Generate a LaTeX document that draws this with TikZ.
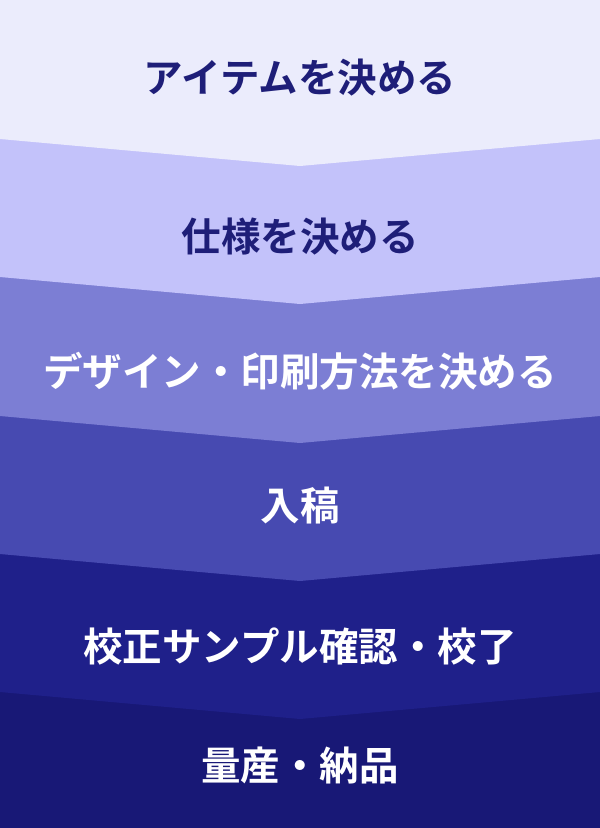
\documentclass[tikz,border=0pt]{standalone}
\usepackage{fontspec}
\newfontfamily\jp{Noto Sans CJK JP Bold}
\definecolor{bA}{HTML}{EBECFC}
\definecolor{bB}{HTML}{C3C2FA}
\definecolor{bC}{HTML}{7C7ED4}
\definecolor{bD}{HTML}{474AB1}
\definecolor{bE}{HTML}{1F208A}
\definecolor{bF}{HTML}{181876}
\definecolor{navy}{HTML}{1E1E78}
\begin{document}
\begin{tikzpicture}[x=1pt,y=-1pt,
  lbl/.style={font=\jp\fontsize{39.5}{44}\selectfont, inner sep=0pt}]
\useasboundingbox (0,0) rectangle (600,828);
\fill[bF] (0,0) rectangle (600,828);
\fill[bE] (0,0) -- (600,0) -- (600,692) -- (300,719) -- (0,692) -- cycle;
\fill[bD] (0,0) -- (600,0) -- (600,554) -- (300,581) -- (0,554) -- cycle;
\fill[bC] (0,0) -- (600,0) -- (600,416) -- (300,443) -- (0,416) -- cycle;
\fill[bB] (0,0) -- (600,0) -- (600,277) -- (300,304) -- (0,277) -- cycle;
\fill[bA] (0,0) -- (600,0) -- (600,139) -- (300,166) -- (0,139) -- cycle;
\node[lbl, text=navy] (t1) at (300,78) {アイテムを決める};
\node[lbl, text=navy] (t2) at (300,237) {仕様を決める};
\node[lbl, text=white] (t3) at (300,371) {デザイン・印刷方法を決める};
\node[lbl, text=white] (t4) at (300,506) {入稿};
\node[lbl, text=white] (t5) at (300,646) {校正サンプル確認・校了};
\node[lbl, text=white] (t6) at (300,765) {量産・納品};
\end{tikzpicture}
\end{document}
